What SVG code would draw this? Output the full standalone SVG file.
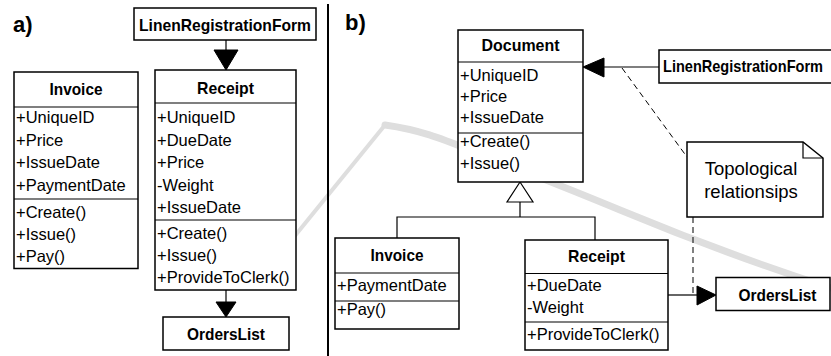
<svg xmlns="http://www.w3.org/2000/svg" width="831" height="356" viewBox="0 0 831 356">
<defs>
<style>
.bx{fill:#fff;stroke:#000;stroke-width:1.5}
.ln{fill:none;stroke:#000;stroke-width:1.2}
.dsh{fill:none;stroke:#000;stroke-width:1;stroke-dasharray:6 4}
.ah{fill:#000;stroke:#000;stroke-width:1}
.gen{fill:#fff;stroke:#000;stroke-width:1.2}
text{font-family:"Liberation Sans",Arial,sans-serif;font-size:16.5px;fill:#000}
.h{font-weight:bold;font-size:17px;text-anchor:middle}
.lbl{font-weight:bold;font-size:22px}
.note{font-size:18.5px;text-anchor:middle}
.wm{fill:none;stroke:#dedede;stroke-linecap:round}
</style>
</defs>
<rect width="831" height="356" fill="#fff"/>
<g id="watermark">
<path class="wm" stroke-width="4" d="M385,125 L285,248"/>
<path class="wm" stroke-width="7" d="M385,125 C420,130 440,138 470,150 S560,185 620,210 S760,265 831,288"/>
</g>
<g id="labels">
<text class="lbl" x="13" y="32">a)</text>
<text class="lbl" x="345" y="30">b)</text>
</g>
<line x1="328" y1="4" x2="328" y2="356" stroke="#000" stroke-width="2"/>
<g id="connectors">
<line class="ln" x1="226" y1="40" x2="226" y2="52"/>
<polygon class="ah" points="214,50 238,50 226,70"/>
<line class="ln" x1="226" y1="290" x2="226" y2="304"/>
<polygon class="ah" points="216,302 236,302 226,317"/>
<line class="ln" x1="659" y1="67" x2="602" y2="67"/>
<polygon class="ah" points="604,58 604,77 583,67"/>
<line class="dsh" x1="622" y1="68" x2="687" y2="157"/>
<polygon class="gen" points="520,182 507,202 533,202"/>
<polyline class="ln" points="520,202 520,217"/>
<polyline class="ln" points="397,238 397,217 595,217 595,240"/>
<line class="ln" x1="668" y1="295" x2="699" y2="295"/>
<polygon class="ah" points="697,286 697,305 716,295"/>
<line class="dsh" x1="693" y1="217" x2="693" y2="295"/>
</g>
<g id="a-lrf">
<rect class="bx" x="134" y="8" width="182" height="32"/>
<text class="h" x="225" y="31" textLength="172" lengthAdjust="spacingAndGlyphs">LinenRegistrationForm</text>
</g>
<g id="a-invoice">
<rect class="bx" x="14" y="72" width="124" height="196.5"/>
<line class="ln" x1="14" y1="107" x2="138" y2="107"/>
<line class="ln" x1="14" y1="199" x2="138" y2="199"/>
<text class="h" x="76" y="95" textLength="53" lengthAdjust="spacingAndGlyphs">Invoice</text>
<text x="16" y="123">+UniqueID</text>
<text x="16" y="145.5">+Price</text>
<text x="16" y="168">+IssueDate</text>
<text x="16" y="190.5">+PaymentDate</text>
<text x="16" y="218">+Create()</text>
<text x="16" y="240">+Issue()</text>
<text x="16" y="262">+Pay()</text>
</g>
<g id="a-receipt">
<rect class="bx" x="155" y="70" width="141" height="220"/>
<line class="ln" x1="155" y1="103" x2="296" y2="103"/>
<line class="ln" x1="155" y1="220" x2="296" y2="220"/>
<text class="h" x="225.5" y="94" textLength="57" lengthAdjust="spacingAndGlyphs">Receipt</text>
<text x="157" y="123">+UniqueID</text>
<text x="157" y="145.5">+DueDate</text>
<text x="157" y="168">+Price</text>
<text x="157" y="190.5">-Weight</text>
<text x="157" y="213">+IssueDate</text>
<text x="157" y="239">+Create()</text>
<text x="157" y="261">+Issue()</text>
<text x="157" y="283">+ProvideToClerk()</text>
</g>
<g id="a-orderslist">
<rect class="bx" x="163" y="317" width="126" height="33"/>
<text class="h" x="226" y="340" textLength="78" lengthAdjust="spacingAndGlyphs">OrdersList</text>
</g>
<g id="b-document">
<rect class="bx" x="458" y="30" width="125" height="152"/>
<line class="ln" x1="458" y1="62" x2="583" y2="62"/>
<line class="ln" x1="458" y1="133" x2="583" y2="133"/>
<text class="h" x="520.5" y="51" textLength="78" lengthAdjust="spacingAndGlyphs">Document</text>
<text x="460" y="81">+UniqueID</text>
<text x="460" y="102">+Price</text>
<text x="460" y="123">+IssueDate</text>
<text x="460" y="146.5">+Create()</text>
<text x="460" y="169">+Issue()</text>
</g>
<g id="b-lrf">
<rect class="bx" x="659" y="50" width="180" height="33"/>
<text class="h" x="663" y="72" style="text-anchor:start" textLength="160" lengthAdjust="spacingAndGlyphs">LinenRegistrationForm</text>
</g>
<g id="b-note">
<path class="bx" d="M687,142 H803 L823,158 V217 H687 Z"/>
<polyline class="ln" points="803,142 803,158 823,158"/>
<text class="note" x="751" y="175">Topological</text>
<text class="note" x="751" y="198">relationsips</text>
</g>
<g id="b-invoice">
<rect class="bx" x="335" y="238" width="124" height="91"/>
<line class="ln" x1="335" y1="273" x2="459" y2="273"/>
<line class="ln" x1="335" y1="301" x2="459" y2="301"/>
<text class="h" x="397" y="261" textLength="53" lengthAdjust="spacingAndGlyphs">Invoice</text>
<text x="337" y="291">+PaymentDate</text>
<text x="337" y="315">+Pay()</text>
</g>
<g id="b-receipt">
<rect class="bx" x="525" y="240" width="143" height="110"/>
<line class="ln" x1="525" y1="273.5" x2="668" y2="273.5"/>
<line class="ln" x1="525" y1="322" x2="668" y2="322"/>
<text class="h" x="596.5" y="262" textLength="57" lengthAdjust="spacingAndGlyphs">Receipt</text>
<text x="527" y="291">+DueDate</text>
<text x="527" y="313">-Weight</text>
<text x="527" y="340">+ProvideToClerk()</text>
</g>
<g id="b-orderslist">
<rect class="bx" x="716" y="277.5" width="114" height="33"/>
<text class="h" x="777.5" y="301" textLength="78" lengthAdjust="spacingAndGlyphs">OrdersList</text>
</g>
</svg>
